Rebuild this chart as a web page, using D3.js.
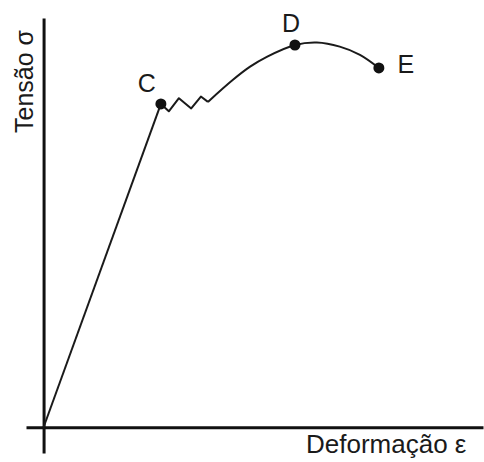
<!DOCTYPE html>
<html>
<head>
<meta charset="utf-8">
<script src="https://cdn.jsdelivr.net/npm/d3@7"></script>
<style>
  body { margin: 0; background: #fff; }
  text { font-family: "Liberation Sans", Arial, sans-serif; fill: #1a1a1a; }
</style>
</head>
<body>
<div id="chart"></div>
<script>
// elastic part: origin -> C
const elastic = [[0, 0], [26.7, 79.0]];
// yield zigzag after C
const yieldZig = [[26.7, 79.0], [28.5, 77.2], [30.8, 80.4], [33.6, 77.9], [35.8, 80.8], [37.4, 79.5]];
// hardening / necking curve up to D and on to E
const hardening = [[37.4, 79.5], [43.1, 84.9], [47.0, 88.1], [50.8, 90.5], [57.2, 93.4],
                   [62.2, 94.0], [67.4, 93.0], [72.0, 91.0], [76.3, 87.8]];
// marked points
const points = [
  {name: 'C', x: 26.7, y: 79.0},
  {name: 'D', x: 57.2, y: 93.4},
  {name: 'E', x: 76.3, y: 87.8}
];
const xLabel = 'Deformação ε';
const yLabel = 'Tensão σ';

const width = 484, height = 462;

const svg = d3.select('#chart')
  .append('svg')
  .attr('width', width)
  .attr('height', height);

let x = d3.scaleLinear().domain([-4, 100]).range([26, 483]);
let y = d3.scaleLinear().domain([-6.3, 100]).range([453, 18]);

// axes through the origin, no ticks
svg.append('g')
  .attr('transform', 'translate(0,' + y(0) + ')')
  .call(d3.axisBottom(x).tickValues([]).tickSizeOuter(0))
  .select('.domain')
  .attr('stroke', '#111')
  .attr('stroke-width', 3);

svg.append('g')
  .attr('transform', 'translate(' + x(0) + ',0)')
  .call(d3.axisLeft(y).tickValues([]).tickSizeOuter(0))
  .select('.domain')
  .attr('stroke', '#111')
  .attr('stroke-width', 3);

let straight = d3.line().x(d => x(d[0])).y(d => y(d[1]));
let smooth = d3.line().x(d => x(d[0])).y(d => y(d[1])).curve(d3.curveCatmullRom);

svg.append('path')
  .attr('d', straight(elastic))
  .attr('fill', 'none')
  .attr('stroke', '#1a1a1a')
  .attr('stroke-width', 2);

svg.append('path')
  .attr('d', straight(yieldZig))
  .attr('fill', 'none')
  .attr('stroke', '#1a1a1a')
  .attr('stroke-width', 2)
  .attr('stroke-linejoin', 'round');

svg.append('path')
  .attr('d', smooth(hardening))
  .attr('fill', 'none')
  .attr('stroke', '#1a1a1a')
  .attr('stroke-width', 2);

svg.selectAll('.pt')
  .data(points)
  .enter()
  .append('circle')
  .attr('class', 'pt')
  .attr('cx', d => x(d.x))
  .attr('cy', d => y(d.y))
  .attr('r', 5.5)
  .attr('fill', '#111');

// point labels
const labelOffset = {C: [-14, -12], D: [-4, -13], E: [27, 5]};
svg.selectAll('.lbl')
  .data(points)
  .enter()
  .append('text')
  .attr('class', 'lbl')
  .attr('x', d => x(d.x) + labelOffset[d.name][0])
  .attr('y', d => y(d.y) + labelOffset[d.name][1])
  .attr('text-anchor', 'middle')
  .style('font-size', '25px')
  .text(d => d.name);

svg.append('text')
  .attr('x', 306)
  .attr('y', 453)
  .style('font-size', '26px')
  .text(xLabel);

svg.append('text')
  .attr('transform', 'translate(33,133) rotate(-90)')
  .style('font-size', '25px')
  .text(yLabel);
</script>
</body>
</html>
